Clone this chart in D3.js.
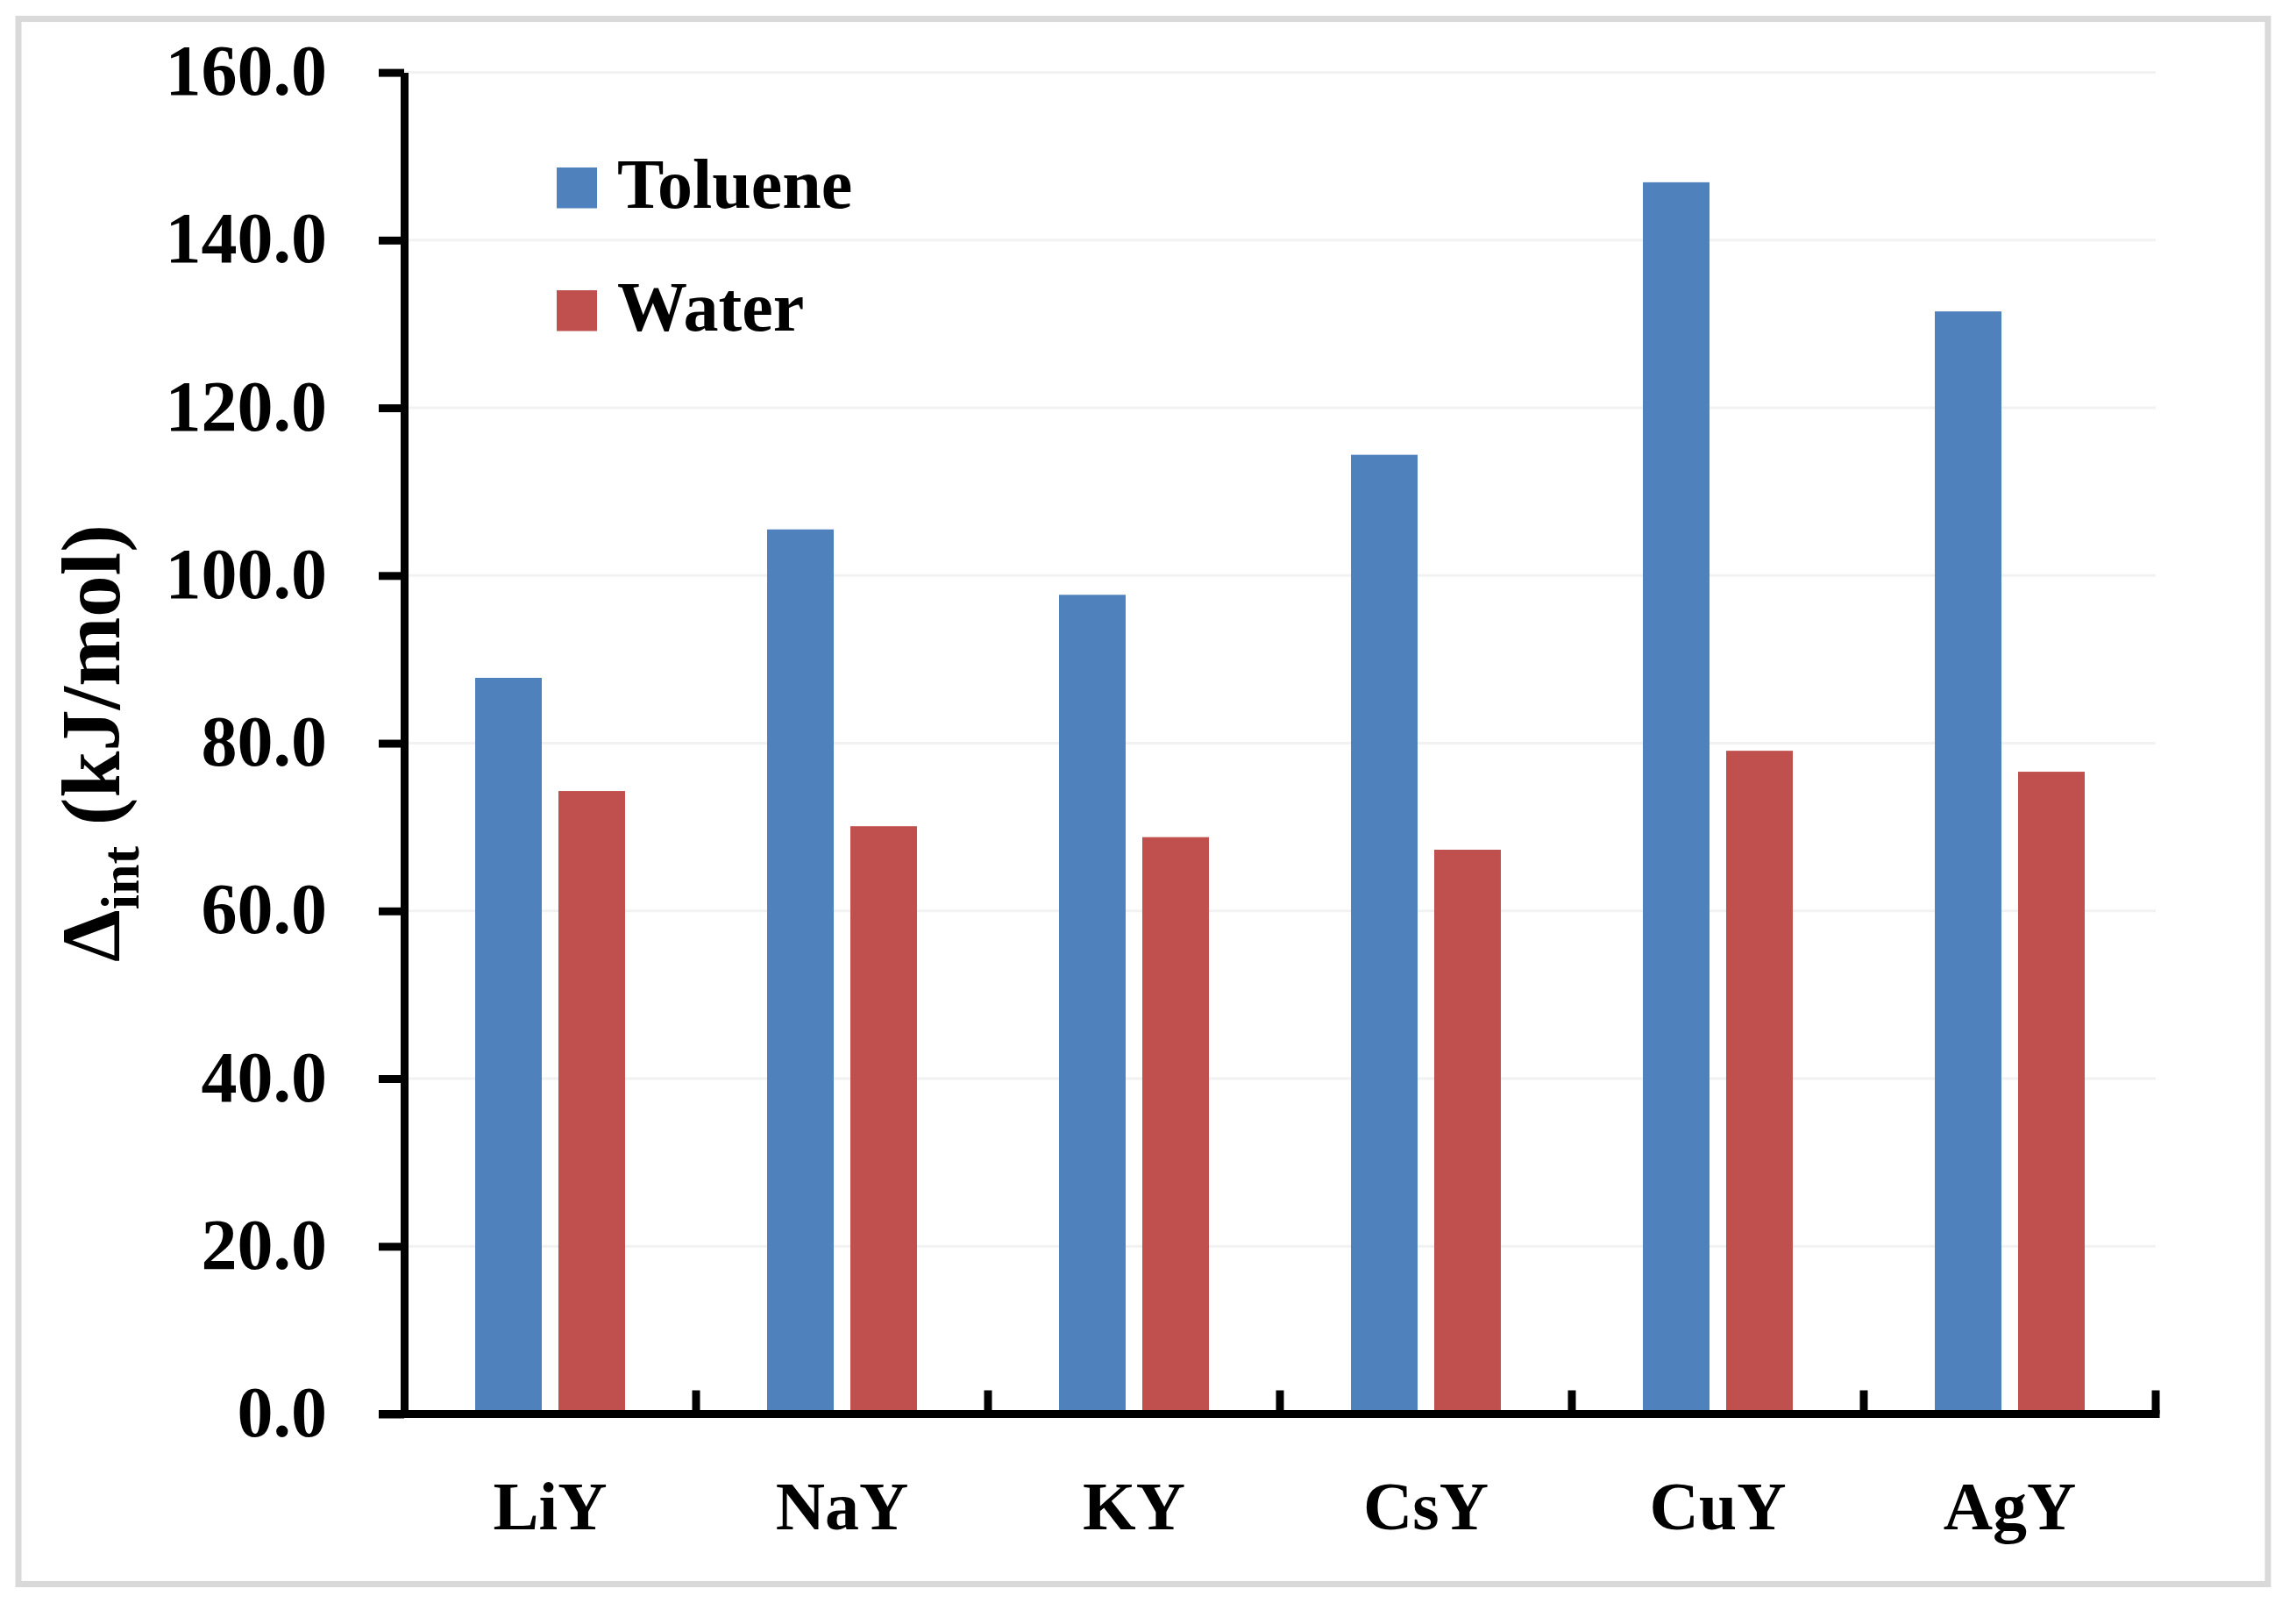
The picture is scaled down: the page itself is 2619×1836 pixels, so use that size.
<!DOCTYPE html>
<html>
<head>
<meta charset="utf-8">
<script src="https://cdn.jsdelivr.net/npm/d3@7"></script>
<style>
  html, body { margin: 0; padding: 0; background: #fff; }
  svg { display: block; font-family: 'Liberation Serif', 'Times New Roman', serif; font-weight: bold; }
</style>
</head>
<body>
<div id="chart"></div>
<script>
// Values
const categories = ['LiY', 'NaY', 'KY', 'CsY', 'CuY', 'AgY'];
const seriesNames = ['Toluene', 'Water'];
const toluene = [87.8, 105.5, 97.7, 114.4, 146.9, 131.5];
const water = [74.3, 70.1, 68.8, 67.3, 79.1, 76.6];
const yTicks = [0, 20, 40, 60, 80, 100, 120, 140, 160];
const colors = ['#4f81bd', '#c0504d'];

const width = 2619;
const height = 1836;
const plot = { left: 461, right: 2459, top: 82.6, bottom: 1612.5 };

const svg = d3.select('#chart').append('svg')
  .attr('width', width)
  .attr('height', height);

// Outer frame
svg.append('rect')
  .attr('x', 21).attr('y', 21.5)
  .attr('width', 2566).attr('height', 1785)
  .attr('fill', '#fff')
  .attr('stroke', '#d9d9d9')
  .attr('stroke-width', 7);

// Scales
const x = d3.scaleBand().domain(categories).range([plot.left, plot.right]).padding(0);
const xs = d3.scaleBand().domain(seriesNames).range([0, x.bandwidth()])
  .paddingInner(0.2).paddingOuter(0.853);
const y = d3.scaleLinear().domain([0, 160]).range([plot.bottom, plot.top]);

// Gridlines
svg.append('g')
  .selectAll('line')
  .data(yTicks.slice(1))
  .enter().append('line')
  .attr('x1', plot.left).attr('x2', plot.right)
  .attr('y1', d => y(d)).attr('y2', d => y(d))
  .attr('stroke', '#f2f2f2')
  .attr('stroke-width', 3);

// Bars
const rows = categories.map((c, i) => ({ cat: c, values: [toluene[i], water[i]] }));
const group = svg.append('g').selectAll('g')
  .data(rows)
  .enter().append('g')
  .attr('transform', d => `translate(${x(d.cat)}, 0)`);

group.selectAll('rect')
  .data(d => d.values.map((v, j) => ({ name: seriesNames[j], value: v, color: colors[j] })))
  .enter().append('rect')
  .attr('x', d => xs(d.name))
  .attr('width', xs.bandwidth())
  .attr('y', d => y(d.value))
  .attr('height', d => y(0) - y(d.value))
  .attr('fill', d => d.color);

// Y axis
const yAxis = svg.append('g')
  .attr('transform', `translate(${plot.left}, 0)`)
  .call(d3.axisLeft(y).tickValues(yTicks).tickFormat(d3.format('.1f'))
    .tickSize(29).tickSizeOuter(0).tickPadding(59));
yAxis.select('.domain').attr('stroke', '#000').attr('stroke-width', 9);
yAxis.selectAll('.tick line').attr('stroke', '#000').attr('stroke-width', 9);
yAxis.selectAll('.tick text')
  .attr('font-family', null)
  .attr('font-size', 82)
  .attr('fill', '#000')
  .attr('dy', 25);
yAxis.attr('font-family', null).attr('font-size', null);

// X axis: baseline, inner ticks at category boundaries, labels
svg.append('line')
  .attr('x1', plot.left - 29).attr('x2', plot.right + 4.5)
  .attr('y1', y(0)).attr('y2', y(0))
  .attr('stroke', '#000').attr('stroke-width', 9);

svg.append('g').selectAll('line')
  .data(categories)
  .enter().append('line')
  .attr('x1', d => x(d) + x.bandwidth()).attr('x2', d => x(d) + x.bandwidth())
  .attr('y1', y(0)).attr('y2', y(0) - 27)
  .attr('stroke', '#000').attr('stroke-width', 9);

svg.append('g').selectAll('text')
  .data(categories)
  .enter().append('text')
  .attr('x', d => x(d) + x.bandwidth() / 2)
  .attr('y', 1744)
  .attr('text-anchor', 'middle')
  .attr('font-size', 78)
  .text(d => d);

// Y axis title with subscript
const title = svg.append('text')
  .attr('transform', `translate(136, ${(plot.top + plot.bottom) / 2}) rotate(-90)`)
  .attr('text-anchor', 'middle')
  .attr('font-size', 95);
title.append('tspan').text('Δ');
title.append('tspan').attr('font-size', 62).attr('dy', 22).text('int');
title.append('tspan').attr('dy', -22).text(' (kJ/mol)');

// Legend
const legend = svg.append('g').selectAll('g')
  .data(seriesNames)
  .enter().append('g')
  .attr('transform', (d, i) => `translate(635, ${191 + i * 140})`);
legend.append('rect')
  .attr('width', 46).attr('height', 46.5)
  .attr('fill', (d, i) => colors[i]);
legend.append('text')
  .attr('x', 69).attr('y', 46)
  .attr('font-size', 80)
  .text(d => d);
</script>
</body>
</html>
